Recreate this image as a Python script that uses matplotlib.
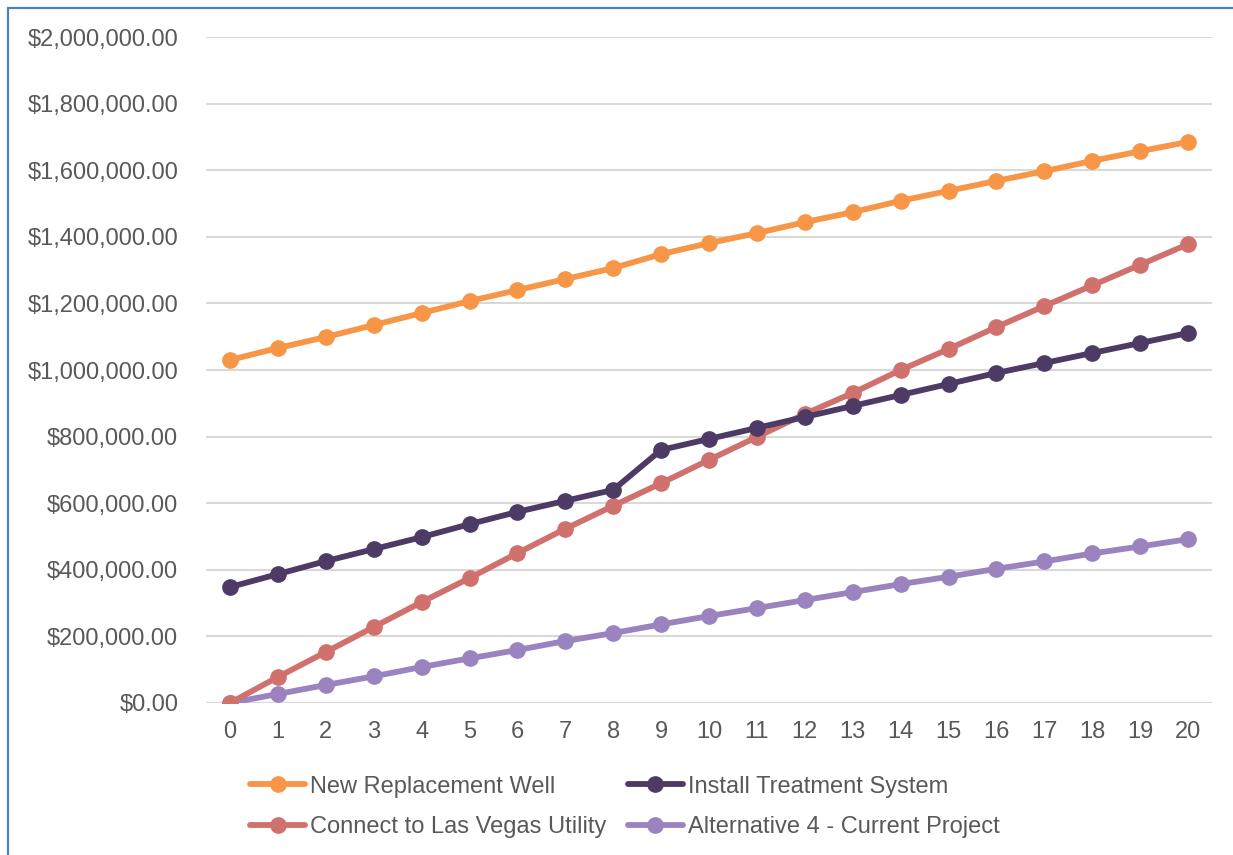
import matplotlib
matplotlib.use('Agg')
import matplotlib.pyplot as plt
from matplotlib.patches import Rectangle
from matplotlib.ticker import FuncFormatter

# --- Data: cumulative cost by year ---
years = list(range(21))

new_well = [1030000, 1066000, 1099000, 1135000, 1171000, 1207000, 1240000,
            1273000, 1306000, 1348000, 1381000, 1411000, 1444000, 1474000,
            1508000, 1538000, 1568000, 1597000, 1628000, 1657000, 1685000]
treatment = [348000, 387000, 426000, 462000, 498000, 537000, 574000,
             607000, 640000, 760000, 793000, 826000, 859000, 892000,
             925000, 958000, 991000, 1021000, 1051000, 1081000, 1111000]
las_vegas = [0, 78000, 153000, 228000, 303000, 375000, 450000,
             523000, 592000, 660000, 730000, 799000, 868000, 931000,
             1000000, 1063000, 1129000, 1192000, 1254000, 1316000, 1378000]
alt4 = [0, 27000, 54000, 80000, 108000, 134000, 159000,
        186000, 210000, 236000, 261000, 285000, 309000, 333000,
        357000, 379000, 403000, 425000, 449000, 470000, 492000]

series_names = ["New Replacement Well", "Connect to Las Vegas Utility",
                "Install Treatment System", "Alternative 4 - Current Project"]

ORANGE = "#F79646"
PLUM = "#4E3B65"
ROSE = "#D0716E"
LAVENDER = "#9B83BF"
TEXT = "#595959"
GRID = "#D9D9D9"

plt.rcParams['font.family'] = ['Liberation Sans', 'DejaVu Sans']

fig = plt.figure(figsize=(12.33, 8.55), dpi=100)
ax = fig.add_axes([0.1671, 0.1778, 0.8159, 0.7789])

# draw order: purple/lavender lines under the others where they overlap
plot_order = [
    (alt4, LAVENDER, series_names[3]),
    (las_vegas, ROSE, series_names[1]),
    (treatment, PLUM, series_names[2]),
    (new_well, ORANGE, series_names[0]),
]
handles = {}
for vals, col, name in plot_order:
    h, = ax.plot(years, vals, color=col, linewidth=4.2, marker='o',
                 markersize=11, solid_capstyle='round', label=name, zorder=3)
    handles[name] = h

ax.set_xlim(-0.5, 20.5)
ax.set_ylim(0, 2000000)
ax.set_xticks(years)
ax.set_yticks(range(0, 2000001, 200000))
ax.yaxis.set_major_formatter(FuncFormatter(lambda v, p: "${:,.2f}".format(v)))
ax.tick_params(axis='y', length=0, pad=20, labelsize=17, labelcolor=TEXT)
ax.tick_params(axis='x', length=0, pad=13, labelsize=17, labelcolor=TEXT)
ax.grid(axis='y', color=GRID, linewidth=1.5)
ax.set_axisbelow(True)
for s in ax.spines.values():
    s.set_visible(False)
ax.axhline(0, color=GRID, linewidth=1.5, zorder=1)

leg = fig.legend([handles[n] for n in series_names], series_names,
                 loc='upper left', bbox_to_anchor=(0.195, 0.104), ncol=2,
                 frameon=False, fontsize=17, handlelength=2.35,
                 handletextpad=0.2, columnspacing=0.9, labelspacing=0.8,
                 borderaxespad=0)
for t in leg.get_texts():
    t.set_color(TEXT)

# blue chart-area border
fig.patches.append(Rectangle((8 / 1233, -0.05), 1.1, 1 - 8 / 855 + 0.05,
                             transform=fig.transFigure, fill=False,
                             edgecolor="#4F81BD", linewidth=1.6))

fig.savefig("out.png", dpi=100)
